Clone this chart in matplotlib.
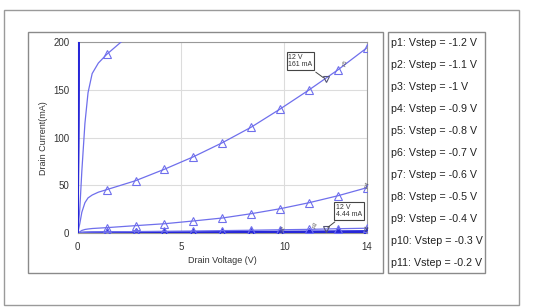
import matplotlib
matplotlib.use("Agg")
import matplotlib.pyplot as plt
from matplotlib.patches import Rectangle

plt.rcParams['font.family'] = ['Liberation Sans', 'DejaVu Sans']

# drain voltage sweep (V); markers sit on the 1.4 V grid
vd = [0, 0.1, 0.2, 0.35, 0.5, 0.7, 1.0, 1.4, 2.8, 4.2, 5.6, 7.0, 8.4, 9.8, 11.2, 12.6, 14.0]
mark_idx = list(range(7, 17))

# drain current (mA) for each gate step
p1 = [0, 0.1, 0.1, 0.2, 0.2, 0.2, 0.3, 0.3, 0.3, 0.3, 0.4, 0.4, 0.4, 0.5, 0.5, 0.5, 0.6]
p2 = [0, 0.3, 0.5, 0.6, 0.7, 0.8, 0.8, 0.9, 1.0, 1.1, 1.2, 1.3, 1.5, 1.6, 1.8, 2.0, 2.2]
p3 = [0, 0.5, 0.9, 1.1, 1.2, 1.3, 1.4, 1.5, 1.8, 2.1, 2.4, 2.8, 3.2, 3.7, 4.1, 4.8, 5.3]
p4 = [0, 1.5, 3.0, 4.0, 4.5, 5.0, 5.4, 5.9, 8.0, 10.0, 12.9, 16.0, 20.5, 25.7, 32.0, 39.3, 47.7]
p5 = [0, 10, 22, 32, 37, 40, 43, 45.6, 55, 67, 80, 94.7, 111, 130, 150, 171, 194]
p6 = [0, 25, 65, 115, 147, 167, 178, 187, 213, 240, 268, 298, 330, 364, 400, 438, 478]
p7 = [0, 400, 600, 700, 760, 800, 830, 850, 900, 940, 980, 1020, 1060, 1100, 1140, 1180, 1220]
p8 = [0, 500, 700, 800, 860, 900, 930, 950, 1000, 1040, 1080, 1120, 1160, 1200, 1240, 1280, 1320]
p9 = [0, 600, 800, 900, 960, 1000, 1030, 1050, 1100, 1140, 1180, 1220, 1260, 1300, 1340, 1380, 1420]
p10 = [0, 700, 900, 1000, 1060, 1100, 1130, 1150, 1200, 1240, 1280, 1320, 1360, 1400, 1440, 1480, 1520]
p11 = [0, 800, 1000, 1100, 1160, 1200, 1230, 1250, 1300, 1340, 1380, 1420, 1460, 1500, 1540, 1580, 1620]
curves = [p1, p2, p3, p4, p5, p6, p7, p8, p9, p10, p11]

legend_labels = ["p1: Vstep = -1.2 V", "p2: Vstep = -1.1 V", "p3: Vstep = -1 V",
                 "p4: Vstep = -0.9 V", "p5: Vstep = -0.8 V", "p6: Vstep = -0.7 V",
                 "p7: Vstep = -0.6 V", "p8: Vstep = -0.5 V", "p9: Vstep = -0.4 V",
                 "p10: Vstep = -0.3 V", "p11: Vstep = -0.2 V"]

W, H = 534, 307
fig = plt.figure(figsize=(W / 100, H / 100), dpi=100)
fig.patch.set_facecolor('white')

def box(x0, y0, x1, y1, shadow=True, lw=1.0, ec='#8a8a8a'):
    # pixel coords (top-left origin) -> figure rectangle
    if shadow:
        fig.patches.append(Rectangle(((x0 + 2) / W, 1 - (y1 + 2) / H), (x1 - x0) / W, (y1 - y0) / H,
                                     transform=fig.transFigure, fc='#a0a0a0', ec='none', zorder=0))
    fig.patches.append(Rectangle((x0 / W, 1 - y1 / H), (x1 - x0) / W, (y1 - y0) / H,
                                 transform=fig.transFigure, fc='white', ec=ec, lw=lw, zorder=0.5))

box(4, 10, 519, 305, shadow=False, ec='#9a9a9a')
box(28, 32, 383, 273)
box(388, 32, 485, 273)

ax = fig.add_axes([77.7 / W, 1 - 233.3 / H, 289.3 / W, 191.3 / H])
ax.set_zorder(2)
ax.set_xlim(0, 14)
ax.set_ylim(0, 200)
ax.set_xticks([0, 5, 10, 14])
ax.set_yticks([0, 50, 100, 150, 200])
ax.tick_params(length=0, labelsize=7, colors='#333333', pad=6)
ax.grid(True, color='#dcdcdc', lw=0.8)
ax.set_axisbelow(True)
for s in ax.spines.values():
    s.set_color('#999999')
    s.set_linewidth(0.8)

line_col = '#6f6fec'
dark_col = '#2626d8'
for i, c in enumerate(curves):
    col = dark_col if (i < 2 or i >= 6) else line_col
    lw = 1.6 if (i < 2 or i >= 6) else 0.9
    ax.plot(vd, c, color=col, lw=lw, marker='^', markevery=mark_idx,
            markersize=5.5, markerfacecolor='none', markeredgecolor=col,
            markeredgewidth=0.8, clip_on=True, zorder=3)

# marker readouts at 12 V
ax.plot([12, 12], [161, 4.44], ls='none', marker='v', markersize=5,
        markerfacecolor='none', markeredgecolor='#555577', markeredgewidth=0.8, zorder=4)
ax.annotate("12 V\n161 mA", xy=(12, 161), xytext=(10.2, 180), fontsize=5, color='#333333',
            va='center', ha='left', linespacing=1.1,
            bbox=dict(boxstyle='square,pad=0.25', fc='white', ec='#444444', lw=0.8),
            arrowprops=dict(arrowstyle='-', color='#444444', lw=0.7), zorder=5)
ax.annotate("12 V\n4.44 mA", xy=(12, 4.44), xytext=(12.5, 23.5), fontsize=5, color='#333333',
            va='center', ha='left', linespacing=1.1,
            bbox=dict(boxstyle='square,pad=0.25', fc='white', ec='#444444', lw=0.8),
            arrowprops=dict(arrowstyle='-', color='#444444', lw=0.7), zorder=5)

# small trace tags
for tx, ty, t in [(12.95, 178, 'p5'), (14.0, 51, 'p4'), (11.5, 9, 'p3'), (9.95, 4, 'p2'), (14.0, 6, 'p1')]:
    ax.text(tx, ty, t, fontsize=4, color='#555555', rotation=60, ha='center', va='center',
            clip_on=False, zorder=5)

ax.set_xlabel("Drain Voltage (V)", fontsize=6.5, color='#333333', labelpad=3)
ax.set_ylabel("Drain Current(mA)", fontsize=6.5, color='#333333', labelpad=4)

for k, lab in enumerate(legend_labels):
    y = 43 + k * 22
    fig.text(391 / W, 1 - y / H, lab, fontsize=7.7, color='#222222', va='center', ha='left')

fig.savefig("out.png", dpi=100)
